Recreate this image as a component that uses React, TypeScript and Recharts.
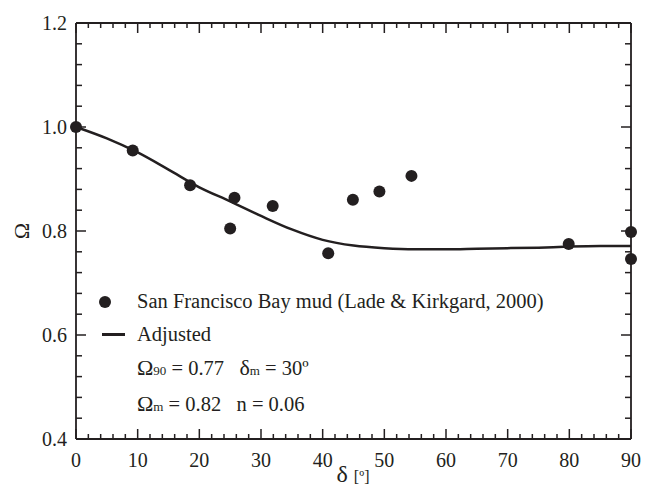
import { ComposedChart, Line, Scatter, XAxis, YAxis, ReferenceLine } from 'recharts';

// measured points: delta [deg] vs Omega
const measuredDelta = [0, 9.2, 18.5, 25.0, 25.7, 31.9, 40.9, 44.9, 49.2, 54.4, 79.9, 90, 90];
const measuredOmega = [1.0, 0.955, 0.888, 0.805, 0.864, 0.848, 0.757, 0.86, 0.876, 0.906, 0.775, 0.798, 0.746];

// adjusted curve
const fitDelta = [0, 5, 10, 15, 20, 25, 30, 35, 40, 45, 50, 55, 60, 65, 70, 75, 80, 85, 90];
const fitOmega = [1.0, 0.978, 0.951, 0.918, 0.884, 0.857, 0.829, 0.803, 0.783, 0.772, 0.767, 0.765, 0.765, 0.766, 0.767, 0.768, 0.77, 0.771, 0.771];

const xTicks = [0, 2, 4, 6, 8, 10, 12, 14, 16, 18, 20, 22, 24, 26, 28, 30, 32, 34, 36, 38, 40, 42, 44, 46, 48, 50, 52, 54, 56, 58, 60, 62, 64, 66, 68, 70, 72, 74, 76, 78, 80, 82, 84, 86, 88, 90];
const yTicks = [0.4, 0.44, 0.48, 0.52, 0.56, 0.6, 0.64, 0.68, 0.72, 0.76, 0.8, 0.84, 0.88, 0.92, 0.96, 1.0, 1.04, 1.08, 1.12, 1.16, 1.2];

const measured = measuredDelta.map((x, i) => ({ x, y: measuredOmega[i] }));
const fitted = fitDelta.map((x, i) => ({ x, y: fitOmega[i] }));

const INK = '#231f20';
const FONT = '"Liberation Serif", serif';

const X_MIN = 0, X_MAX = 90, Y_MIN = 0.4, Y_MAX = 1.2;
// plot box is ~555 x 416 px, used to turn tick lengths in px into data units
const PX_X = (X_MAX - X_MIN) / 555;
const PX_Y = (Y_MAX - Y_MIN) / 416;

const isMajorX = (v: number) => v % 10 === 0;
const isMajorY = (v: number) => Math.abs(v * 5 - Math.round(v * 5)) < 1e-6;

const BottomLabel = (p: any) =>
  isMajorX(p.payload.value) ? (
    <text x={p.x} y={p.y + 28} textAnchor="middle" fontSize={20} fontFamily={FONT} fill={INK}>
      {String(p.payload.value)}
    </text>
  ) : (
    <g />
  );

const LeftLabel = (p: any) =>
  isMajorY(p.payload.value) ? (
    <text x={p.x - 9} y={p.y + 7} textAnchor="end" fontSize={20} fontFamily={FONT} fill={INK}>
      {p.payload.value.toFixed(1)}
    </text>
  ) : (
    <g />
  );

const Dot = (p: any) => <circle cx={p.cx} cy={p.cy} r={6} fill={INK} />;
const NoDot = () => <g />;

// inward tick marks on all four sides of the frame
const tickSegments = () => {
  const out: any[] = [];
  xTicks.forEach((v) => {
    const len = (isMajorX(v) ? 10 : 5) * PX_Y;
    out.push(
      <ReferenceLine key={`xb${v}`} xAxisId="b" yAxisId="l" segment={[{ x: v, y: Y_MIN }, { x: v, y: Y_MIN + len }]} stroke={INK} strokeWidth={1.5} ifOverflow="visible" />,
      <ReferenceLine key={`xt${v}`} xAxisId="b" yAxisId="l" segment={[{ x: v, y: Y_MAX }, { x: v, y: Y_MAX - len }]} stroke={INK} strokeWidth={1.5} ifOverflow="visible" />
    );
  });
  yTicks.forEach((v) => {
    const len = (isMajorY(v) ? 10 : 6) * PX_X;
    out.push(
      <ReferenceLine key={`yl${v}`} xAxisId="b" yAxisId="l" segment={[{ x: X_MIN, y: v }, { x: X_MIN + len, y: v }]} stroke={INK} strokeWidth={1.5} ifOverflow="visible" />,
      <ReferenceLine key={`yr${v}`} xAxisId="b" yAxisId="l" segment={[{ x: X_MAX, y: v }, { x: X_MAX - len, y: v }]} stroke={INK} strokeWidth={1.5} ifOverflow="visible" />
    );
  });
  return out;
};

const LegendBox = () => (
  <div
    style={{
      position: 'absolute',
      left: 92,
      top: 285,
      fontFamily: FONT,
      fontSize: 20.5,
      color: INK,
      lineHeight: '33px',
      whiteSpace: 'nowrap',
    }}
  >
    <div style={{ display: 'flex', alignItems: 'center' }}>
      <span style={{ display: 'inline-block', width: 12, height: 12, borderRadius: 6, background: INK, margin: '0 26px 0 7px' }} />
      San Francisco Bay mud (Lade &amp; Kirkgard, 2000)
    </div>
    <div style={{ display: 'flex', alignItems: 'center' }}>
      <span style={{ display: 'inline-block', width: 23, height: 2.5, background: INK, margin: '0 12px 0 10px' }} />
      Adjusted
    </div>
    <div style={{ paddingLeft: 45 }}>
      <span style={{ fontSize: 22 }}>Ω</span>
      <span style={{ fontSize: 13 }}>90</span> = 0.77&nbsp;&nbsp;&nbsp;
      <span style={{ fontSize: 22 }}>δ</span>
      <span style={{ fontSize: 13 }}>m</span> = 30º
    </div>
    <div style={{ paddingLeft: 45 }}>
      <span style={{ fontSize: 22 }}>Ω</span>
      <span style={{ fontSize: 13 }}>m</span> = 0.82&nbsp;&nbsp;&nbsp;n = 0.06
    </div>
  </div>
);

// axis titles
const AxisTitles = () => (
  <>
    <div
      style={{
        position: 'absolute',
        left: 10,
        top: 219,
        width: 24,
        height: 24,
        lineHeight: '24px',
        textAlign: 'center',
        transform: 'rotate(-90deg)',
        fontFamily: FONT,
        fontSize: 22,
        color: INK,
      }}
    >
      Ω
    </div>
    <div
      style={{
        position: 'absolute',
        left: 298,
        top: 461,
        width: 110,
        textAlign: 'center',
        fontFamily: FONT,
        color: INK,
        whiteSpace: 'nowrap',
      }}
    >
      <span style={{ fontSize: 24 }}>δ</span>
      <span style={{ fontSize: 16, marginLeft: 6 }}>[º]</span>
    </div>
  </>
);

export default function App() {
  return (
    <div style={{ position: 'absolute', left: 0, top: 0, width: 650, height: 490, background: '#fff' }}>
      <ComposedChart width={650} height={490} margin={{ top: 22, right: 18, left: 16, bottom: 11 }}>
        <XAxis xAxisId="b" dataKey="x" type="number" domain={[X_MIN, X_MAX]} ticks={xTicks} interval={0} tickSize={0} tickMargin={0} tickLine={false} tick={BottomLabel} height={40} stroke={INK} strokeWidth={1.8} />
        <XAxis xAxisId="t" orientation="top" dataKey="x" type="number" domain={[X_MIN, X_MAX]} tick={false} tickLine={false} height={1} stroke={INK} strokeWidth={1.8} />
        <YAxis yAxisId="l" dataKey="y" type="number" domain={[Y_MIN, Y_MAX]} ticks={yTicks} interval={0} tickSize={0} tickMargin={0} tickLine={false} tick={LeftLabel} width={60} stroke={INK} strokeWidth={1.8} />
        <YAxis yAxisId="r" orientation="right" dataKey="y" type="number" domain={[Y_MIN, Y_MAX]} tick={false} tickLine={false} width={1} stroke={INK} strokeWidth={1.8} />
        {tickSegments()}
        <Scatter xAxisId="b" yAxisId="l" data={measured} dataKey="y" fill={INK} shape={Dot} isAnimationActive={false} name="San Francisco Bay mud (Lade & Kirkgard, 2000)" />
        <Line xAxisId="b" yAxisId="l" data={fitted} dataKey="y" type="monotone" stroke={INK} strokeWidth={2.5} dot={false} isAnimationActive={false} name="Adjusted" />
        {/* hidden copy so the top and right frame axes are drawn */}
        <Scatter xAxisId="t" yAxisId="r" data={measured} dataKey="y" shape={NoDot} legendType="none" isAnimationActive={false} />
      </ComposedChart>
      <AxisTitles />
      <LegendBox />
    </div>
  );
}
